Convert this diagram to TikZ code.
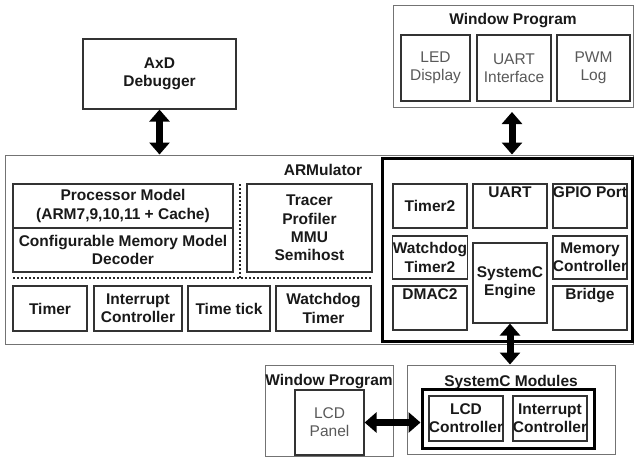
\documentclass[tikz,border=0pt]{standalone}
\usepackage{fontspec}
\setmainfont{Liberation Sans}
\usetikzlibrary{arrows.meta}
\newcommand\bfnt{\fontsize{15.5}{18.3}\selectfont\bfseries}
\newcommand\rgnt{\fontsize{15.5}{18.3}\selectfont}
\tikzset{
  box/.style={draw=black!80, line width=1.2pt, inner sep=0pt, align=center, font=\bfnt, text=black!90},
  wbox/.style={box, font=\rgnt, text=black!65},
  outer/.style={draw=black!55, line width=1pt, inner sep=0pt},
  heavy/.style={draw=black, line width=3pt, inner sep=0pt},
  ttl/.style={font=\bfnt, text=black!90, inner sep=0pt},
  toptext/.style={label={[ttl, anchor=north, yshift=-3pt]north:#1}},
  dbl/.style={line width=7pt, {Triangle[width=20pt,length=12pt]}-{Triangle[width=20pt,length=12pt]}},
  dots/.style={line width=2pt, dash pattern=on 2pt off 2pt, draw=black!85}
}
\def\drawbox[#1](#2)(#3,#4)(#5,#6)#7{\node[#1, minimum width={#5-#3}, minimum height={#6-#4}] (#2) at ({(#3+#5)/2},{(#4+#6)/2}) {#7};}
\begin{document}
\begin{tikzpicture}[x=1pt,y=-1pt]
\useasboundingbox (0,0) rectangle (634,458);
% AxD
\drawbox[box](axd)(83,39)(236,109){AxD\\Debugger}
% Window program top
\drawbox[outer](wpt)(393,5)(633,107){}
\node[ttl] (wptt) at (513,21) {Window Program};
\drawbox[wbox](led)(401,35)(470,101){LED\\Display}
\drawbox[wbox](uarti)(477,35)(551,101){UART\\Interface}
\drawbox[wbox](pwm)(557,35)(630,101){PWM\\Log}
% ARMulator
\drawbox[outer](armul)(5,155)(633,344){}
\node[ttl] (armt) at (323,170) {ARMulator};
\drawbox[box](proc)(13,184)(233,228){Processor Model\\(ARM7,9,10,11 + Cache)}
\drawbox[box](mem)(13,228)(233,272){Configurable Memory Model\\Decoder}
\drawbox[box](trc)(247,184)(372,272){Tracer\\Profiler\\MMU\\Semihost}
\coordinate (vt) at (240,184);
\coordinate (vb) at (240,278);
\coordinate (hl) at (13,278);
\coordinate (hr) at (372,278);
\draw[dots] (vt) -- (vb);
\draw[dots] (hl) -- (hr);
\drawbox[box](tim)(13,286)(87,331){Timer}
\drawbox[box](intc)(94,286)(182,331){Interrupt\\Controller}
\drawbox[box](tt)(188,286)(270,331){Time tick}
\drawbox[box](wd)(276,286)(371,331){Watchdog\\Timer}
% SystemC area
\drawbox[heavy](sca)(382,158)(632,341){}
\drawbox[box](t2)(393,184)(467,228){Timer2}
\drawbox[box,toptext=UART](uart)(473,184)(547,228){}
\drawbox[box,toptext=GPIO Port](gpio)(553,184)(627,228){}
\drawbox[box](wd2)(393,236)(467,279){Watchdog\\Timer2}
\drawbox[box,toptext=DMAC2](dma)(393,286)(467,330){}
\drawbox[box](eng)(473,243)(547,323){SystemC\\Engine}
\drawbox[box](mc)(553,236)(627,279){Memory\\Controller}
\drawbox[box,toptext=Bridge](brg)(553,286)(627,330){}
% bottom
\drawbox[outer](wpb)(265,365)(393,456){}
\node[ttl] (wpbt) at (329,382) {Window Program};
\drawbox[wbox](lcdp)(295,390)(364,455){LCD\\Panel}
\drawbox[outer](scm)(407,365)(615,454){}
\node[ttl] (scmt) at (511,382) {SystemC Modules};
\drawbox[heavy](scin)(422,389)(594,448){}
\drawbox[box](lcdc)(429,396)(503,441){LCD\\Controller}
\drawbox[box](ic2)(513,396)(587,441){Interrupt\\Controller}
% arrows
\draw[dbl] (axd.south) -- (axd.south |- armul.north);
\coordinate (a2t) at (512,112);
\draw[dbl] (a2t) -- (a2t |- armul.north);
\draw[dbl] (eng.south) -- (eng.south |- scm.north);
\draw[dbl] (lcdp.east) -- (lcdp.east -| scin.west);
\end{tikzpicture}
\end{document}
